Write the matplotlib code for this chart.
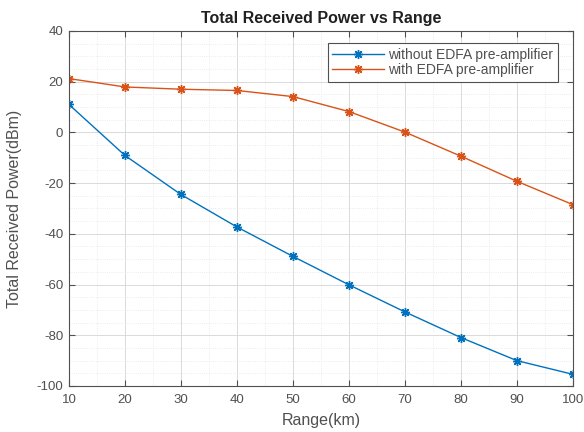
import matplotlib
matplotlib.use("Agg")
import matplotlib.pyplot as plt
from matplotlib.ticker import MultipleLocator

plt.rcParams['font.family'] = ['Liberation Sans', 'DejaVu Sans']
plt.rcParams['axes.unicode_minus'] = False

range_km = [10, 20, 30, 40, 50, 60, 70, 80, 90, 100]
without_edfa = [11.0, -9.1, -24.5, -37.3, -48.9, -60.1, -70.8, -80.9, -90.0, -95.4]
with_edfa = [21.2, 17.9, 17.0, 16.5, 14.1, 8.2, 0.1, -9.4, -19.3, -28.5]
labels = ['without EDFA pre-amplifier', 'with EDFA pre-amplifier']

fig = plt.figure(figsize=(5.84, 4.32), dpi=100)
ax = fig.add_axes([0.118, 0.1065, 0.863, 0.822])

mk = (8, 2, 0)
ax.plot(range_km, without_edfa, color='#0072BD', marker=mk, markersize=6.5, markeredgewidth=1.0,
        linewidth=1.0, label=labels[0])
ax.plot(range_km, with_edfa, color='#D95319', marker=mk, markersize=6.5, markeredgewidth=1.0,
        linewidth=1.0, label=labels[1])

ax.set_xlim(10, 100)
ax.set_ylim(-100, 40)
ax.xaxis.set_major_locator(MultipleLocator(10))
ax.yaxis.set_major_locator(MultipleLocator(20))
ax.xaxis.set_minor_locator(MultipleLocator(5))
ax.yaxis.set_minor_locator(MultipleLocator(5))
ax.grid(which='major', color='#dadada', linewidth=0.7)
ax.grid(which='minor', color='#e6e6e6', linewidth=0.6, linestyle=':')
ax.set_axisbelow(True)
ax.tick_params(which='major', direction='in', top=True, right=True, length=4, labelsize=9.5,
               color='#505050', labelcolor='#505050')
ax.tick_params(axis='x', which='major', pad=6)
ax.tick_params(axis='y', which='major', pad=4)
ax.tick_params(which='minor', length=0)
for s in ax.spines.values():
    s.set_color('#505050')
    s.set_linewidth(0.8)

ax.set_xlabel('Range(km)', fontsize=11.5, color='#505050')
ax.set_ylabel('Total Received Power(dBm)', fontsize=11.5, color='#505050')
ax.xaxis.set_label_coords(0.5, -0.075)
ax.yaxis.set_label_coords(-0.093, 0.5)
ax.set_title('Total Received Power vs Range', fontsize=11.5, fontweight='bold', pad=5.5, color='#202020')

leg = ax.legend(loc='upper right', fontsize=10, fancybox=False, framealpha=1, edgecolor='#505050',
                borderpad=0.35, handlelength=3.7, handletextpad=0.3, labelspacing=0.1,
                borderaxespad=0, bbox_to_anchor=(0.970, 0.966))
leg.get_frame().set_linewidth(0.8)
for t in leg.get_texts():
    t.set_color('#505050')

fig.savefig('out.png', dpi=100)
